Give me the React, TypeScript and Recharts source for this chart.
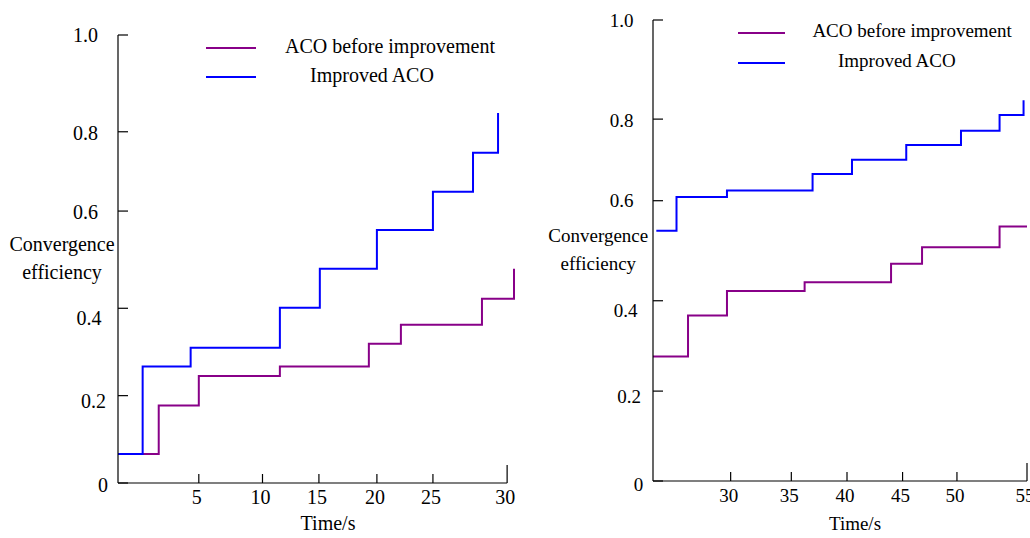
import React from 'react'
import { LineChart, Line, XAxis, YAxis, Legend, ReferenceLine } from 'recharts'

const FONT = '"Liberation Serif", "Times New Roman", serif'
const PURPLE = '#880088'
const BLUE = '#0000ff'

const SERIES_NAMES = ['ACO before improvement', 'Improved ACO']
const Y_TICK_LABELS = ['0', '0.2', '0.4', '0.6', '0.8', '1.0']
const Y_TITLE = ['Convergence', 'efficiency']
const X_TITLE = 'Time/s'

// left panel
const leftBeforeT = [0, 3.14, 6.23, 12.48, 19.34, 21.81, 28.06, 30.53]
const leftBeforeV = [0.065, 0.173, 0.239, 0.26, 0.311, 0.353, 0.411, 0.478]
const leftImprovedT = [0, 1.9, 5.6, 12.48, 15.56, 19.96, 24.28, 27.37, 29.3]
const leftImprovedV = [0.065, 0.26, 0.302, 0.391, 0.478, 0.565, 0.65, 0.737, 0.826]
const leftXTicks = [6.23, 11.14, 15.49, 19.96, 24.28, 30]
const leftXTickLabels = ['5', '10', '15', '20', '25', '30']
const leftYTicks = [0, 0.195, 0.39, 0.607, 0.784, 1]

// right panel
const rightBeforeT = [23.5, 26.45, 29.73, 36.27, 43.55, 46.16, 52.69, 55]
const rightBeforeV = [0.27, 0.359, 0.412, 0.431, 0.471, 0.507, 0.552, 0.552]
const rightImprovedT = [23.78, 25.48, 29.73, 36.94, 40.26, 44.83, 49.44, 52.69, 54.71]
const rightImprovedV = [0.543, 0.616, 0.63, 0.666, 0.697, 0.729, 0.76, 0.794, 0.826]
const rightXTicks = [30.04, 35.15, 39.84, 44.52, 49.1, 55]
const rightXTickLabels = ['30', '35', '40', '45', '50', '55']
const rightYTicks = [0, 0.195, 0.391, 0.608, 0.785, 1]

const toPoints = (t: number[], v: number[]) => t.map((x, i) => ({ t: x, v: v[i] }))

const panels = [
  {
    left: 0, width: 530, fontSize: 20,
    margin: { top: 35, right: 16, bottom: 25, left: 18 },
    xDomain: [0, 30.53], axisStart: 0, axisEnd: 30,
    xTicks: leftXTicks, xLabels: leftXTickLabels, yTicks: leftYTicks,
    before: toPoints(leftBeforeT, leftBeforeV),
    improved: toPoints(leftImprovedT, leftImprovedV),
    // label styling per y tick: gap from axis, vertical nudge
    yGap: [10, 12, 16.6, 20, 20, 20], yNudge: [2, 6, 10, 1, 1, 0],
    yTitle: { dx: -56, dy: [216, 244] }, xTitle: { dx: 210, dy: 47 },
    legend: { left: 206, top: 38, gap: 29, line: 50, text: 79, indent: [0, 25] },
  },
  {
    left: 530, width: 500, fontSize: 19,
    margin: { top: 20, right: 3, bottom: 27, left: 23 },
    xDomain: [23.5, 55], axisStart: 23.5, axisEnd: 55,
    xTicks: rightXTicks, xLabels: rightXTickLabels, yTicks: rightYTicks,
    before: toPoints(rightBeforeT, rightBeforeV),
    improved: toPoints(rightImprovedT, rightImprovedV),
    yGap: [9.7, 12, 15.4, 19.4, 19.4, 19.4], yNudge: [4, 5, 10, 0, 1, 1],
    yTitle: { dx: -54.7, dy: [222, 250] }, xTitle: { dx: 202, dy: 49 },
    legend: { left: 208, top: 23, gap: 30, line: 47, text: 74.4, indent: [0, 25.6] },
  },
]

type Panel = (typeof panels)[number]

function XTick(props: any) {
  const { x, y, payload, cfg } = props
  const p: Panel = cfg
  const i = p.xTicks.indexOf(payload.value)
  const axisY = y - 8
  const last = i === p.xTicks.length - 1
  return (
    <g>
      <line x1={x} x2={x} y1={axisY} y2={axisY - (last ? 18 : 9)} stroke="#000" strokeWidth={1.2} />
      <text x={x - 2} y={axisY + 21} textAnchor="middle" fontSize={p.fontSize} fontFamily={FONT} fill="#000">
        {p.xLabels[i]}
      </text>
    </g>
  )
}

function YTick(props: any) {
  const { x, y, payload, cfg } = props
  const p: Panel = cfg
  const i = p.yTicks.indexOf(payload.value)
  const axisX = x + 8
  return (
    <g>
      <line x1={axisX} x2={axisX + 10} y1={y} y2={y} stroke="#000" strokeWidth={1.2} />
      <text x={axisX - p.yGap[i]} y={y + p.yNudge[i] + p.fontSize * 0.34} textAnchor="end"
        fontSize={p.fontSize} fontFamily={FONT} fill="#000">
        {Y_TICK_LABELS[i]}
      </text>
    </g>
  )
}

function LegendBox({ payload, cfg }: any) {
  const lg = cfg.legend
  return (
    <div style={{ position: 'relative', width: 330, height: 60 }}>
      {(payload || []).map((e: any, i: number) => (
        <div key={e.value} style={{ position: 'absolute', left: 0, top: i * lg.gap, width: 330, height: 20 }}>
          <div style={{ position: 'absolute', left: 0, top: 9, width: lg.line, borderTop: `2px solid ${e.color}` }} />
          <span style={{
            position: 'absolute', left: lg.text + lg.indent[i], top: -2, fontSize: cfg.fontSize,
            fontFamily: FONT, lineHeight: '20px', whiteSpace: 'nowrap', color: '#000',
          }}>{e.value}</span>
        </div>
      ))}
    </div>
  )
}

function ChartPanel({ cfg }: { cfg: Panel }) {
  return (
    <div style={{ position: 'absolute', left: cfg.left, top: 0 }}>
      <LineChart width={cfg.width} height={538} margin={cfg.margin}>
        <XAxis type="number" dataKey="t" domain={cfg.xDomain} ticks={cfg.xTicks} interval={0}
          axisLine={false} tickLine={false} tickSize={6} tickMargin={2} height={30}
          tick={(p: any) => <XTick {...p} cfg={cfg} />}
          label={(lp: any) => {
            const vb = lp.viewBox
            return (
              <text x={vb.x + cfg.xTitle.dx} y={vb.y + cfg.xTitle.dy} textAnchor="middle"
                fontSize={cfg.fontSize} fontFamily={FONT} fill="#000">{X_TITLE}</text>
            )
          }} />
        <YAxis type="number" domain={[0, 1]} ticks={cfg.yTicks} interval={0} width={100}
          axisLine={{ stroke: '#000', strokeWidth: 1.2 }} tickLine={false} tickSize={6} tickMargin={2}
          tick={(p: any) => <YTick {...p} cfg={cfg} />}
          label={(lp: any) => {
            const vb = lp.viewBox
            const cx = vb.x + vb.width + cfg.yTitle.dx
            return (
              <g>
                {Y_TITLE.map((s, i) => (
                  <text key={s} x={cx} y={vb.y + cfg.yTitle.dy[i]} textAnchor="middle"
                    fontSize={cfg.fontSize} fontFamily={FONT} fill="#000">{s}</text>
                ))}
              </g>
            )
          }} />
        <ReferenceLine segment={[{ x: cfg.axisStart, y: 0 }, { x: cfg.axisEnd, y: 0 }]}
          stroke="#000" strokeWidth={1.2} />
        <Legend layout="vertical" align="center" verticalAlign="middle"
          wrapperStyle={{ position: 'absolute', left: cfg.legend.left, top: cfg.legend.top, width: 330 }}
          content={(lp: any) => <LegendBox {...lp} cfg={cfg} />} />
        <Line data={cfg.before} dataKey="v" name={SERIES_NAMES[0]} type="stepAfter" stroke={PURPLE}
          strokeWidth={2} dot={false} activeDot={false} isAnimationActive={false} />
        <Line data={cfg.improved} dataKey="v" name={SERIES_NAMES[1]} type="stepAfter" stroke={BLUE}
          strokeWidth={2} dot={false} activeDot={false} isAnimationActive={false} />
      </LineChart>
    </div>
  )
}

export default function App() {
  return (
    <div style={{ position: 'absolute', left: 0, top: 0, width: 1030, height: 538, background: '#fff', overflow: 'hidden' }}>
      {panels.map((p, i) => <ChartPanel key={i} cfg={p} />)}
    </div>
  )
}
